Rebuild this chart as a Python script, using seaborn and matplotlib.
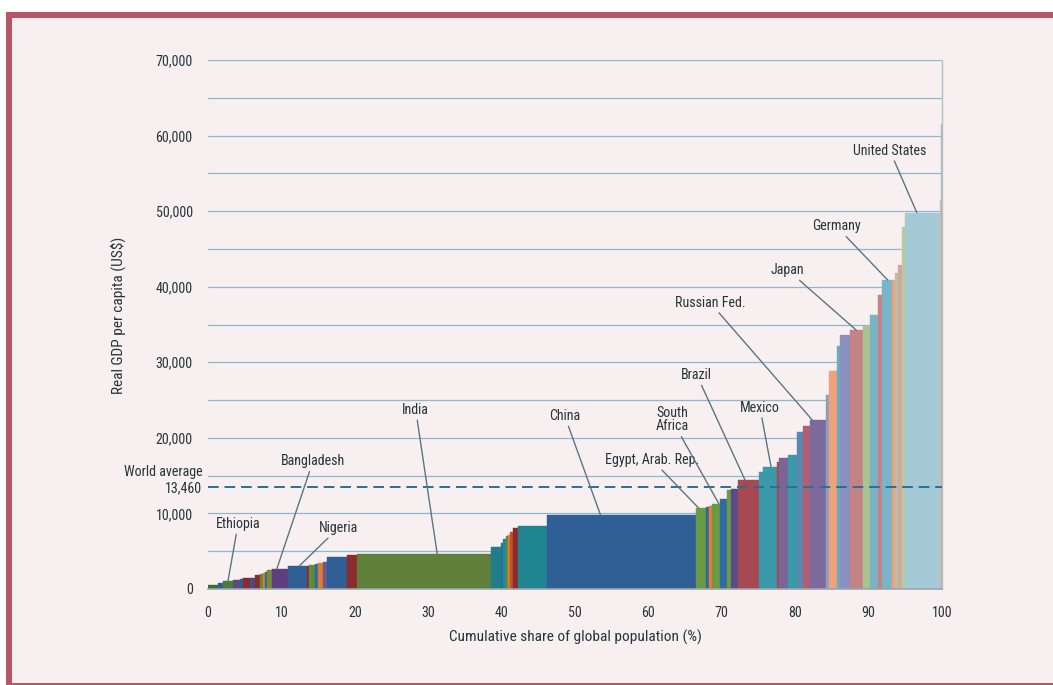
import numpy as np
import pandas as pd
import seaborn as sns
import matplotlib.pyplot as plt
from matplotlib import font_manager
from matplotlib.patches import Rectangle

# Population share (% of world) and real GDP per capita (US$), sorted by income
shares = [1.36, 0.68, 1.36, 0.95, 0.41, 0.95, 0.68, 0.68, 0.41, 0.27,
          0.27, 0.68, 2.18, 2.59, 0.27, 0.82, 0.41, 0.68, 0.54, 2.72,
          1.36, 18.26, 1.36, 0.27, 0.41, 0.27, 0.27, 0.41, 0.68, 3.95,
          20.30, 1.36, 0.41, 0.41, 1.09, 0.95, 0.54, 0.95, 2.86, 0.54,
          1.91, 0.27, 1.23, 1.23, 0.82, 0.95, 2.18, 0.41, 1.09, 0.41,
          1.36, 1.77, 0.95, 1.09, 0.54, 1.36, 0.41, 0.41, 0.54, 0.41,
          4.77, 0.14, 0.19]
gdp = [530, 750, 1060, 1200, 1300, 1460, 1500, 1850, 2000, 2150,
       2200, 2500, 2600, 3050, 3100, 3180, 3300, 3480, 3600, 4280,
       4500, 4650, 5600, 6050, 6580, 7000, 7150, 7580, 8030, 8340,
       9830, 10700, 10900, 11000, 11260, 11950, 13100, 13230, 14430, 15500,
       16200, 16800, 17300, 17700, 20800, 21570, 22400, 25700, 28900, 32100,
       33600, 34270, 34850, 36260, 38900, 40900, 40900, 41800, 42900, 47950,
       49800, 51500, 61500]
world_avg = 13460

# labelled countries: bar index
label_names = ["Ethiopia", "Bangladesh", "Nigeria", "India", "China",
               "Egypt, Arab. Rep.", "South\nAfrica", "Brazil", "Mexico",
               "Russian Fed.", "Japan", "Germany", "United States"]
label_index = [2, 12, 13, 21, 30, 31, 34, 38, 40, 46, 51, 55, 60]

# styling
bar_colors = ["#3d6b35", "#2c5f8f", "#4d7a3a", "#5a4a7e", "#2c5f8f", "#8b2b2b",
              "#4a4a80", "#8b2b2b", "#5e8a3c", "#e07b30", "#2c6aa0", "#7a8a3a",
              "#5b3f80", "#2f5f95", "#8b2b2b", "#5e8a3c", "#2c6aa0", "#e07b30",
              "#6a5a90", "#2f5f95", "#8b2b2b", "#5f7f3b", "#1f7d8c", "#2a6f9a",
              "#1f8a9a", "#5e8a3c", "#e07b30", "#c05030", "#8b2b2b", "#1f8590",
              "#2f5f95", "#6a9a45", "#2c6aa0", "#f07830", "#6a9a45", "#2f6aa5",
              "#6a9a45", "#5b4a8a", "#a84850", "#3a9aaa", "#3a9aaa", "#a84850",
              "#7a6498", "#3a9aaa", "#5a88b0", "#b06070", "#7d6a9c", "#8aa0b8",
              "#f0a07a", "#6aaebe", "#8a90c0", "#c48284", "#a8c48e", "#7ab4c4",
              "#c48284", "#7ab4c8", "#f0a07a", "#b8c0a8", "#d0a8a0", "#b8cc9a",
              "#a3cad6", "#f0b090", "#b0b8c0"]
label_frac = [0.5, 0.3, 0.6, 0.6, 0.36, 0.3, 0.9, 0.35, 0.6, 0.15, 0.5, 0.6, 0.35]
label_pos = [(4.1, 8600), (14.3, 16900), (17.8, 8100), (28.3, 23700),
             (48.6, 22900), (60.5, 17100), (63.2, 22400), (66.6, 28300),
             (75.2, 24000), (68.4, 37900), (79.0, 42200), (85.6, 48000),
             (92.9, 58000)]

edges = np.concatenate([[0], np.cumsum(shares)])
df = pd.DataFrame({"left": edges[:-1], "share": shares, "gdp": gdp})

sns.set_theme(style="white")

# pick a narrow sans if one is installed
ttf = font_manager.fontManager.ttflist
names = {f.name for f in ttf}
fam, stretch = "Liberation Sans", "normal"
for pref in ["Liberation Sans Narrow", "Roboto Condensed", "Noto Sans Condensed",
             "Open Sans Condensed", "DejaVu Sans Condensed", "Arial Narrow"]:
    if pref in names:
        fam = pref
        break
else:
    for f in ttf:
        if f.stretch in ("condensed", "semi-condensed") and f.name in (
                "Noto Sans", "DejaVu Sans", "Roboto", "Open Sans", "Liberation Sans"):
            fam, stretch = f.name, f.stretch
            break
plt.rcParams["font.family"] = [fam, "DejaVu Sans"]
plt.rcParams["font.stretch"] = stretch
txt_color = "#26343c"

fig = plt.figure(figsize=(10.53, 6.85), dpi=100)
fig.patch.set_facecolor("white")
W, H = 1053, 685

# scale text so the x-axis title is as wide as in the reference (~252 px)
probe = fig.text(0, 0, "Cumulative share of global population (%)", fontsize=12)
wpx = probe.get_window_extent(renderer=fig.canvas.get_renderer()).width
probe.remove()
k = min(1.0, max(0.8, 252 / wpx))
fs_lab, fs_tick, fs_ann = 12 * k, 11 * k, 11 * k

fig.patches.append(Rectangle((6 / W, 0), 1, 1 - 12 / H, transform=fig.transFigure,
                             facecolor="#b85566", edgecolor="none", zorder=-2))
fig.patches.append(Rectangle((12 / W, 2 / H), 1, 1 - 20 / H, transform=fig.transFigure,
                             facecolor="#f8f0f0", edgecolor="none", zorder=-1))

ax = fig.add_axes([208 / W, 1 - 589 / H, 734 / W, 529 / H])
ax.set_facecolor("none")

# variable-width bars: width = population share
ax.bar(df["left"], df["gdp"], width=df["share"], align="edge",
       color=bar_colors, edgecolor=bar_colors, linewidth=0.3, zorder=2)

# gridlines
ax.set_yticks(np.arange(0, 70001, 10000))
ax.set_yticks(np.arange(5000, 70001, 10000), minor=True)
ax.grid(True, axis="y", which="both", color="#8fb8cc", linewidth=0.9)
ax.grid(False, axis="x")
ax.set_axisbelow(True)

ax.axhline(world_avg, color="#2a6f95", linewidth=1.4, dashes=(5.5, 3), zorder=4)

ax.set_xlim(0, 100)
ax.set_ylim(0, 70000)
ax.set_xticks(range(0, 101, 10))
ax.set_yticklabels([f"{v:,}" for v in range(0, 70001, 10000)])
ax.tick_params(axis="both", which="both", length=0, labelsize=fs_tick, colors=txt_color)
ax.tick_params(axis="y", pad=11)
ax.tick_params(axis="x", pad=12)

ax.text(-0.8, 13300, "13,460", ha="right", va="center", fontsize=fs_tick, color=txt_color)
ax.text(-0.8, 15500, "World average", ha="right", va="center", fontsize=fs_tick,
        color=txt_color)

ax.set_xlabel("Cumulative share of global population (%)", fontsize=fs_lab, color=txt_color)
ax.set_ylabel("Real GDP per capita (US$)", fontsize=fs_lab, color=txt_color)
ax.xaxis.set_label_coords(0.5, -0.077)
ax.yaxis.set_label_coords(-0.112, 0.518)

for sp in ["top", "left"]:
    ax.spines[sp].set_visible(False)
ax.spines["bottom"].set_color("#9aa5ad")
ax.spines["bottom"].set_linewidth(1.2)
ax.spines["right"].set_color("#b0c0c8")
ax.spines["right"].set_linewidth(1.0)

# country annotations
for name, i, fr, (tx, ty) in zip(label_names, label_index, label_frac, label_pos):
    px = edges[i] + fr * shares[i]
    ax.annotate(name, xy=(px, gdp[i]), xytext=(tx, ty), ha="center", va="center",
                fontsize=fs_ann, color=txt_color, linespacing=0.95,
                arrowprops=dict(arrowstyle="-", color="#5a7585", lw=1.0,
                                shrinkA=0, shrinkB=0), zorder=5)

fig.savefig("out.png", dpi=100, facecolor=fig.get_facecolor())
